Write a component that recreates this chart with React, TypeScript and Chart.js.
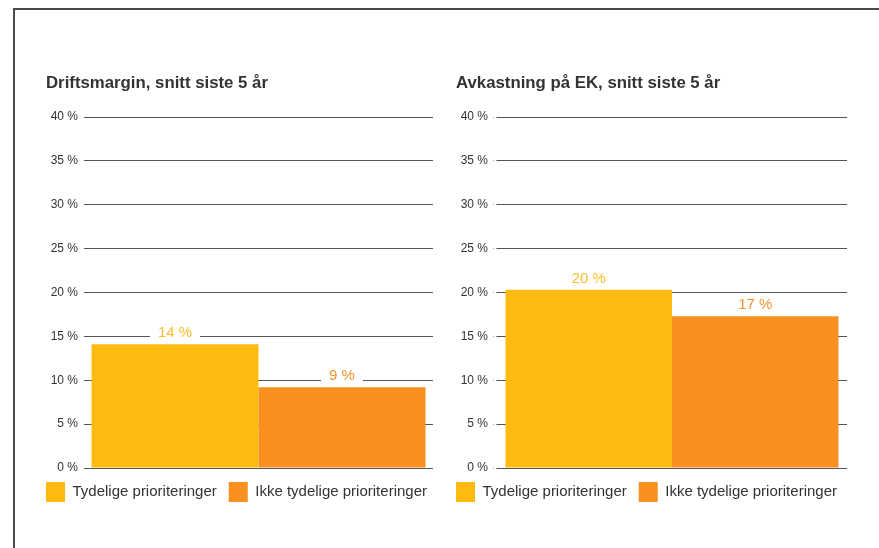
import React, { useEffect, useRef } from 'react';
import { Chart, registerables } from 'chart.js';

Chart.register(...registerables);

// ---- data ----
const SERIES = ['Tydelige prioriteringer', 'Ikke tydelige prioriteringer'];
const BAR_COLORS = ['#FDBB11', '#F7901E'];
const LABEL_COLORS = ['#FDBD2A', '#F7932C'];
const CATEGORY = [''];
const TITLE_LEFT = 'Driftsmargin, snitt siste 5 år';
const TITLE_RIGHT = 'Avkastning på EK, snitt siste 5 år';
const DRIFTSMARGIN = [14.1, 9.2];
const AVKASTNING = [20.3, 17.3];
const Y_MIN = 0;
const Y_MAX = 40;
const Y_STEP = 5;

const FONT = "'Liberation Sans', Arial, Helvetica, sans-serif";
const TEXT = '#333333';

type Geo = {
  left: number;
  width: number;
  padLeft: number;
  rightSpace: number;
  yWidth: number;
  drawTicks: boolean;
  tickLen: number;
  tickPad: number;
  catPct: number;
};

// left panel: plot area 84..433
const GEO_LEFT: Geo = {
  left: 0,
  width: 470,
  padLeft: 34,
  rightSpace: 37,
  yWidth: 50,
  drawTicks: false,
  tickLen: 0,
  tickPad: 6,
  catPct: 334 / 349,
};

// right panel: plot area 497..847
const GEO_RIGHT: Geo = {
  left: 440,
  width: 439,
  padLeft: 4,
  rightSpace: 32,
  yWidth: 53,
  drawTicks: true,
  tickLen: 4,
  tickPad: 5,
  catPct: 333 / 350,
};

const titleShift = {
  id: 'titleShift',
  afterLayout(chart: any) {
    const t = chart.titleBlock;
    if (t) {
      t.left += 12;
      t.right += 12;
    }
  },
};

const valueLabels = {
  id: 'valueLabels',
  afterDatasetsDraw(chart: any) {
    const ctx = chart.ctx;
    ctx.save();
    ctx.font = `15px ${FONT}`;
    ctx.textAlign = 'center';
    ctx.textBaseline = 'middle';
    chart.data.datasets.forEach((ds: any, i: number) => {
      const meta = chart.getDatasetMeta(i);
      meta.data.forEach((bar: any, j: number) => {
        const v = ds.data[j];
        const text = `${Math.round(v)} %`;
        const w = ctx.measureText(text).width;
        const cy = bar.y - 12;
        ctx.fillStyle = '#ffffff';
        ctx.fillRect(bar.x - w / 2 - 8, cy - 8, w + 16, 16);
        ctx.fillStyle = LABEL_COLORS[i];
        ctx.fillText(text, bar.x, cy + 1);
      });
    });
    ctx.restore();
  },
};

function Panel({ title, values, geo }: { title: string; values: number[]; geo: Geo }) {
  const ref = useRef<HTMLCanvasElement | null>(null);

  useEffect(() => {
    if (!ref.current) return;
    const chart = new Chart(ref.current, {
      type: 'bar',
      data: {
        labels: CATEGORY,
        datasets: SERIES.map((name, i) => ({
          label: name,
          data: [values[i]],
          backgroundColor: BAR_COLORS[i],
          borderWidth: 0,
          categoryPercentage: geo.catPct,
          barPercentage: 1,
          yAxisID: 'y',
        })),
      },
      options: {
        responsive: false,
        animation: false,
        events: [],
        layout: {
          padding: { left: geo.padLeft, right: 0, top: 73, bottom: 36 },
        },
        plugins: {
          title: {
            display: true,
            text: title,
            align: 'start',
            color: TEXT,
            font: { family: FONT, size: 16.8, weight: 'bold', lineHeight: 20 / 16.8 },
            padding: { top: 0, bottom: 24 },
          },
          legend: {
            display: true,
            position: 'bottom',
            align: 'start',
            labels: {
              boxWidth: 19,
              boxHeight: 20,
              padding: 12,
              color: TEXT,
              font: { family: FONT, size: 15 },
            },
          },
          tooltip: { enabled: false },
        },
        scales: {
          x: {
            display: true,
            grid: { display: false },
            border: { display: false },
            ticks: { display: false },
            afterFit: (s: any) => {
              s.height = 2;
            },
          },
          y: {
            position: 'left',
            min: Y_MIN,
            max: Y_MAX,
            ticks: {
              stepSize: Y_STEP,
              callback: (v: any) => `${v} %`,
              color: TEXT,
              font: { family: FONT, size: 12 },
              padding: geo.tickPad,
            },
            grid: {
              color: '#555555',
              lineWidth: 1,
              drawTicks: geo.drawTicks,
              tickLength: geo.tickLen,
              tickColor: '#9a9a9a',
              tickBorderDash: [1, 2],
            },
            border: { display: false },
            afterFit: (s: any) => {
              s.width = geo.yWidth;
            },
          },
          spacer: {
            type: 'linear',
            position: 'right',
            display: true,
            min: Y_MIN,
            max: Y_MAX,
            grid: { display: false },
            border: { display: false },
            ticks: { display: false },
            afterFit: (s: any) => {
              s.width = geo.rightSpace;
            },
          },
        },
      } as any,
      plugins: [titleShift, valueLabels],
    });
    return () => chart.destroy();
  }, [title, values, geo]);

  return (
    <canvas
      ref={ref}
      width={geo.width}
      height={548}
      style={{ position: 'absolute', left: geo.left, top: 0, width: geo.width, height: 548 }}
    />
  );
}

export default function App() {
  return (
    <div
      style={{
        position: 'absolute',
        left: 0,
        top: 0,
        width: 879,
        height: 548,
        overflow: 'hidden',
        background: '#ffffff',
      }}
    >
      <Panel title={TITLE_LEFT} values={DRIFTSMARGIN} geo={GEO_LEFT} />
      <Panel title={TITLE_RIGHT} values={AVKASTNING} geo={GEO_RIGHT} />
      <div style={{ position: 'absolute', left: 13, top: 8, width: 866, height: 0, borderTop: '2px solid #4a4a4a' }} />
      <div style={{ position: 'absolute', left: 13, top: 8, width: 0, height: 540, borderLeft: '2px solid #4a4a4a' }} />
    </div>
  );
}
